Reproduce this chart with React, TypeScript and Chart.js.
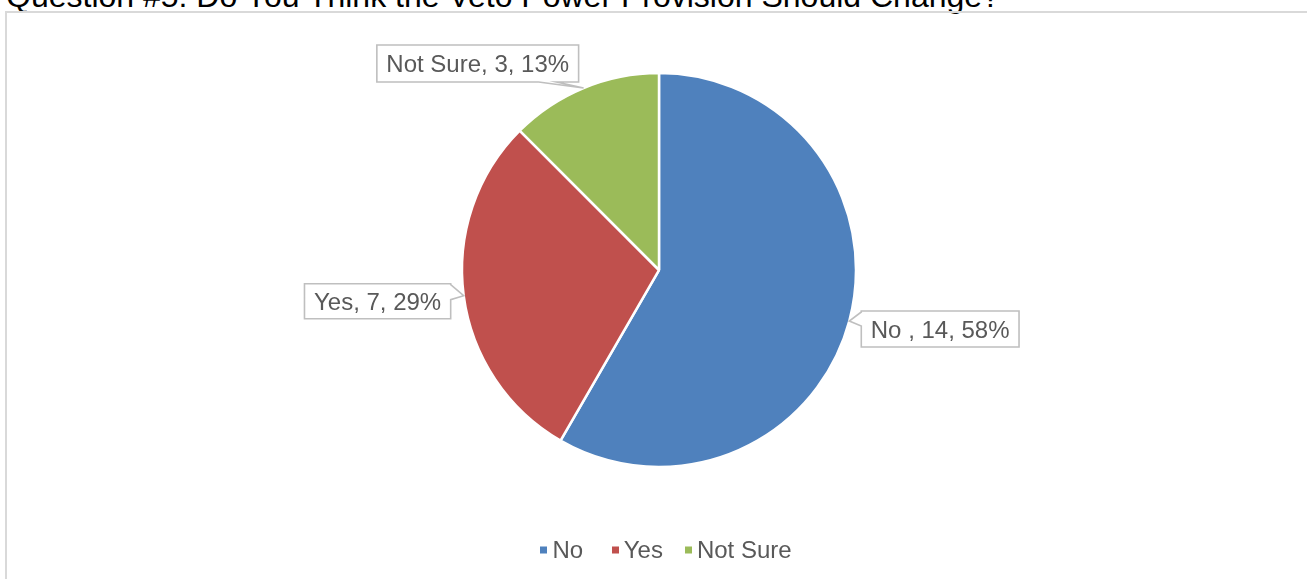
import React, { useEffect, useRef } from "react";
import { Chart, registerables } from "chart.js";

Chart.register(...registerables);

// ---- data ----
const categories = ["No ", "Yes", "Not Sure"];
const values = [14, 7, 3];
const colors = ["#4F81BD", "#C0504D", "#9BBB59"];
const titleText = "Question #5: Do You Think the Veto Power Provision Should Change?";

// ---- styles / layout ----
const FONT = '"Liberation Sans", Arial, Helvetica, sans-serif';
const TEXT_COLOR = "#595959";
const CALLOUT_BORDER = "#BFBFBF";

type Layout = { side: "left" | "right" | "bottom"; gapX: number; top: number; h: number; tail: [number, number] };
const calloutLayout: Layout[] = [
  { side: "left", gapX: 12, top: -10, h: 36, tail: [1, 15] },
  { side: "right", gapX: 13, top: -12, h: 35, tail: [1, 16] },
  { side: "bottom", gapX: 5, top: -43, h: 37, tail: [40, 22] },
];
const LEGEND_CENTER_X = 666;
const LEGEND_BASELINE = 558;

const calloutPlugin = {
  id: "callouts",
  afterDatasetsDraw(chart: any) {
    const ctx = chart.ctx as CanvasRenderingContext2D;
    const meta = chart.getDatasetMeta(0);
    const data = chart.data.datasets[0].data as number[];
    const total = data.reduce((a, b) => a + b, 0);
    ctx.save();
    ctx.font = `24px ${FONT}`;
    meta.data.forEach((arc: any, i: number) => {
      const { x, y, startAngle, endAngle, outerRadius } = arc.getProps(
        ["x", "y", "startAngle", "endAngle", "outerRadius"],
        true
      );
      const mid = (startAngle + endAngle) / 2;
      const tx = x + Math.cos(mid) * outerRadius;
      const ty = y + Math.sin(mid) * outerRadius;
      const text = `${chart.data.labels[i]}, ${data[i]}, ${Math.round((data[i] / total) * 100)}%`;
      const tw = ctx.measureText(text).width;
      const pad = 9.5;
      const w = tw + pad * 2;
      const L = calloutLayout[i];
      const bx = L.side === "left" ? tx + L.gapX : tx - L.gapX - w;
      const by = ty + L.top;
      const h = L.h;

      const pts: [number, number][] = [];
      pts.push([bx, by]);
      pts.push([bx + w, by]);
      if (L.side === "right") {
        pts.push([bx + w, by + L.tail[0]]);
        pts.push([tx, ty]);
        pts.push([bx + w, by + L.tail[1]]);
      }
      pts.push([bx + w, by + h]);
      if (L.side === "bottom") {
        pts.push([bx + w - L.tail[1], by + h]);
        pts.push([tx, ty]);
        pts.push([bx + w - L.tail[0], by + h]);
      }
      pts.push([bx, by + h]);
      if (L.side === "left") {
        pts.push([bx, by + L.tail[1]]);
        pts.push([tx, ty]);
        pts.push([bx, by + L.tail[0]]);
      }
      ctx.beginPath();
      pts.forEach(([px, py], k) => (k === 0 ? ctx.moveTo(px, py) : ctx.lineTo(px, py)));
      ctx.closePath();
      ctx.fillStyle = "#FFFFFF";
      ctx.fill();
      ctx.strokeStyle = CALLOUT_BORDER;
      ctx.lineWidth = 1.6;
      ctx.lineJoin = "miter";
      ctx.stroke();

      ctx.fillStyle = TEXT_COLOR;
      ctx.textAlign = "left";
      ctx.textBaseline = "alphabetic";
      ctx.fillText(text, bx + pad, by + h / 2 + 8.6);
    });
    ctx.restore();
  },
};

const legendPlugin = {
  id: "customLegend",
  afterDraw(chart: any) {
    const ctx = chart.ctx as CanvasRenderingContext2D;
    const labels = chart.data.labels as string[];
    const bg = chart.data.datasets[0].backgroundColor as string[];
    ctx.save();
    ctx.font = `24px ${FONT}`;
    const marker = 7;
    const gapText = 5;
    const gapItem = 22;
    const widths = labels.map((l) => marker + gapText + ctx.measureText(l).width);
    const total = widths.reduce((a, b) => a + b, 0) + gapItem * (labels.length - 1);
    let cx = LEGEND_CENTER_X - total / 2;
    labels.forEach((l, i) => {
      ctx.fillStyle = bg[i];
      ctx.fillRect(Math.round(cx), LEGEND_BASELINE - 11.5, marker, marker);
      ctx.fillStyle = TEXT_COLOR;
      ctx.textAlign = "left";
      ctx.textBaseline = "alphabetic";
      ctx.fillText(l, cx + marker + gapText, LEGEND_BASELINE);
      cx += widths[i] + gapItem;
    });
    ctx.restore();
  },
};

export default function App() {
  const ref = useRef<HTMLCanvasElement | null>(null);

  useEffect(() => {
    if (!ref.current) return;
    const chart = new Chart(ref.current, {
      type: "pie",
      data: {
        labels: categories,
        datasets: [
          {
            data: values,
            backgroundColor: colors,
            borderColor: "#FFFFFF",
            borderWidth: 2.5,
          },
        ],
      },
      options: {
        responsive: false,
        animation: false,
        events: [],
        radius: 197,
        layout: { padding: { left: 11, top: 0, right: 0, bottom: 39 } },
        plugins: {
          legend: { display: false },
          tooltip: { enabled: false },
          title: { display: false },
        },
      } as any,
      plugins: [calloutPlugin, legendPlugin],
    });
    return () => chart.destroy();
  }, []);

  return (
    <div
      style={{
        position: "fixed",
        left: 0,
        top: 0,
        width: 1307,
        height: 579,
        overflow: "hidden",
        background: "#FFFFFF",
      }}
    >
      <div
        style={{
          position: "absolute",
          left: 6,
          top: -20,
          fontFamily: FONT,
          fontSize: 32,
          lineHeight: "32px",
          whiteSpace: "nowrap",
          color: "#000000",
        }}
      >
        {titleText}
      </div>
      <div
        style={{
          position: "absolute",
          left: 5,
          top: 11,
          width: 1400,
          height: 700,
          border: "2px solid #D9D9D9",
          boxSizing: "border-box",
        }}
      />
      <canvas
        ref={ref}
        width={1307}
        height={579}
        style={{ position: "absolute", left: 0, top: 0, display: "block" }}
      />
    </div>
  );
}
